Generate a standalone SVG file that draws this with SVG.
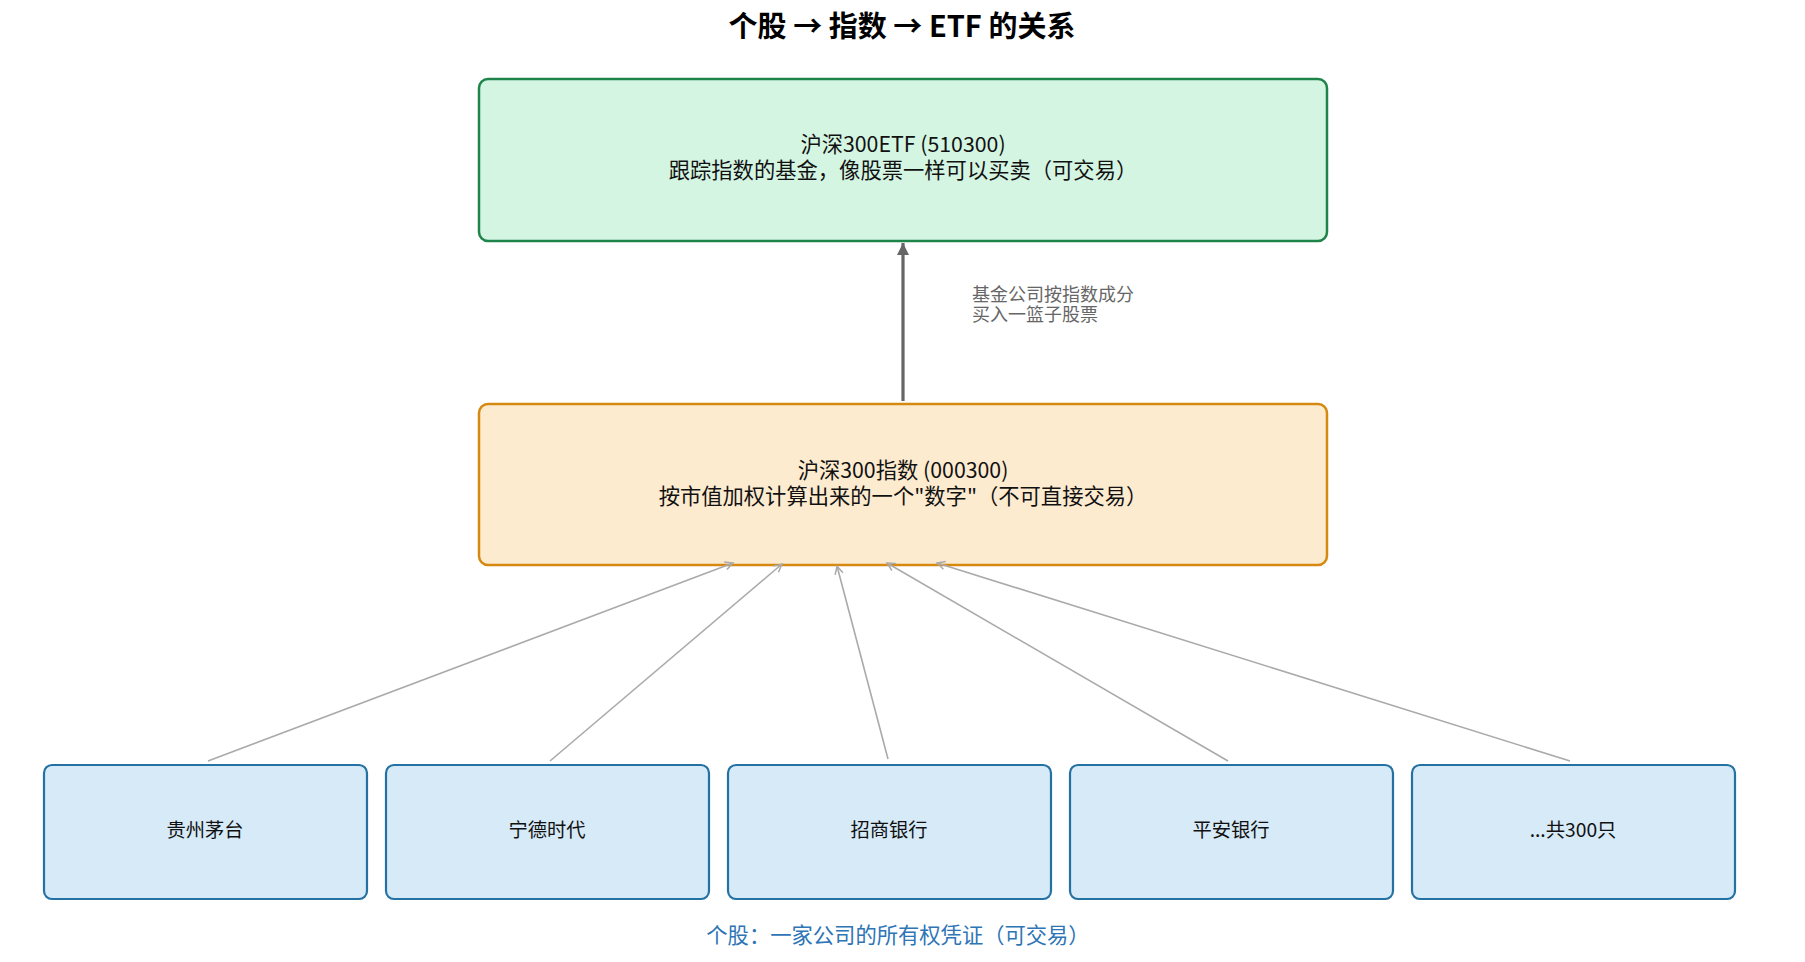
<svg xmlns="http://www.w3.org/2000/svg" width="1805" height="962" viewBox="0 0 1805 962">
<style>
text{font-family:"Noto Sans CJK SC","Noto Sans",sans-serif;text-anchor:middle}
.title{font-size:29px;font-weight:bold;fill:#000}
.lbl{font-size:21.3px;fill:#111}
.sl{font-size:19.3px;fill:#111}
.etf{fill:#d5f5e3;stroke:#1e8449;stroke-width:2.5}
.idx{fill:#fdebd0;stroke:#d68910;stroke-width:2.5}
.stk{fill:#d6eaf8;stroke:#2471a3;stroke-width:2.2}
.edge{stroke:#aaaaaa;stroke-width:1.6;fill:none;marker-end:url(#ah)}
.main{stroke:#666;stroke-width:3.2;fill:none;marker-end:url(#ahd)}
.note{font-size:18px;fill:#666;text-anchor:start}
.foot{font-size:21.3px;fill:#2e75b6}
</style>
<defs>
<marker id="ah" markerWidth="12" markerHeight="12" refX="9" refY="5" orient="auto" markerUnits="userSpaceOnUse">
<path d="M1,1 L9,5 L1,9" fill="none" stroke="#aaaaaa" stroke-width="1.5"/>
</marker>
<marker id="ahd" markerWidth="14" markerHeight="14" refX="12" refY="6" orient="auto" markerUnits="userSpaceOnUse">
<path d="M0,0 L12,6 L0,12 Z" fill="#666"/>
</marker>
</defs>
<rect width="1805" height="962" fill="#fff"/>
<text class="title" x="902" y="37">个股 → 指数 → ETF 的关系</text>
<g id="etf">
<rect class="etf" x="479" y="79" width="848" height="162" rx="9"/>
<text class="lbl"><tspan x="903" y="152">沪深300ETF (510300)</tspan><tspan x="903" y="178">跟踪指数的基金，像股票一样可以买卖（可交易）</tspan></text>
</g>
<g id="index">
<rect class="idx" x="479" y="404" width="848" height="161" rx="9"/>
<text class="lbl"><tspan x="903" y="478">沪深300指数 (000300)</tspan><tspan x="903" y="504">按市值加权计算出来的一个"数字"（不可直接交易）</tspan></text>
</g>
<g id="s1"><rect class="stk" x="44" y="765" width="323" height="134" rx="8"/><text class="sl" x="205" y="837">贵州茅台</text></g>
<g id="s2"><rect class="stk" x="386" y="765" width="323" height="134" rx="8"/><text class="sl" x="547" y="837">宁德时代</text></g>
<g id="s3"><rect class="stk" x="728" y="765" width="323" height="134" rx="8"/><text class="sl" x="889" y="837">招商银行</text></g>
<g id="s4"><rect class="stk" x="1070" y="765" width="323" height="134" rx="8"/><text class="sl" x="1231" y="837">平安银行</text></g>
<g id="s5"><rect class="stk" x="1412" y="765" width="323" height="134" rx="8"/><text class="sl" x="1573" y="837">...共300只</text></g>
<g id="connectors">
<line class="main" x1="903" y1="401" x2="903" y2="243"/>
<line class="edge" x1="208" y1="761" x2="733" y2="563"/>
<line class="edge" x1="550" y1="761" x2="782" y2="564"/>
<line class="edge" x1="888" y1="759" x2="837" y2="566"/>
<line class="edge" x1="1228" y1="761" x2="887" y2="563"/>
<line class="edge" x1="1570" y1="761" x2="937" y2="563"/>
</g>
<text class="note"><tspan x="972" y="301">基金公司按指数成分</tspan><tspan x="972" y="321">买入一篮子股票</tspan></text>
<text class="foot" x="898" y="943">个股：一家公司的所有权凭证（可交易）</text>
</svg>
